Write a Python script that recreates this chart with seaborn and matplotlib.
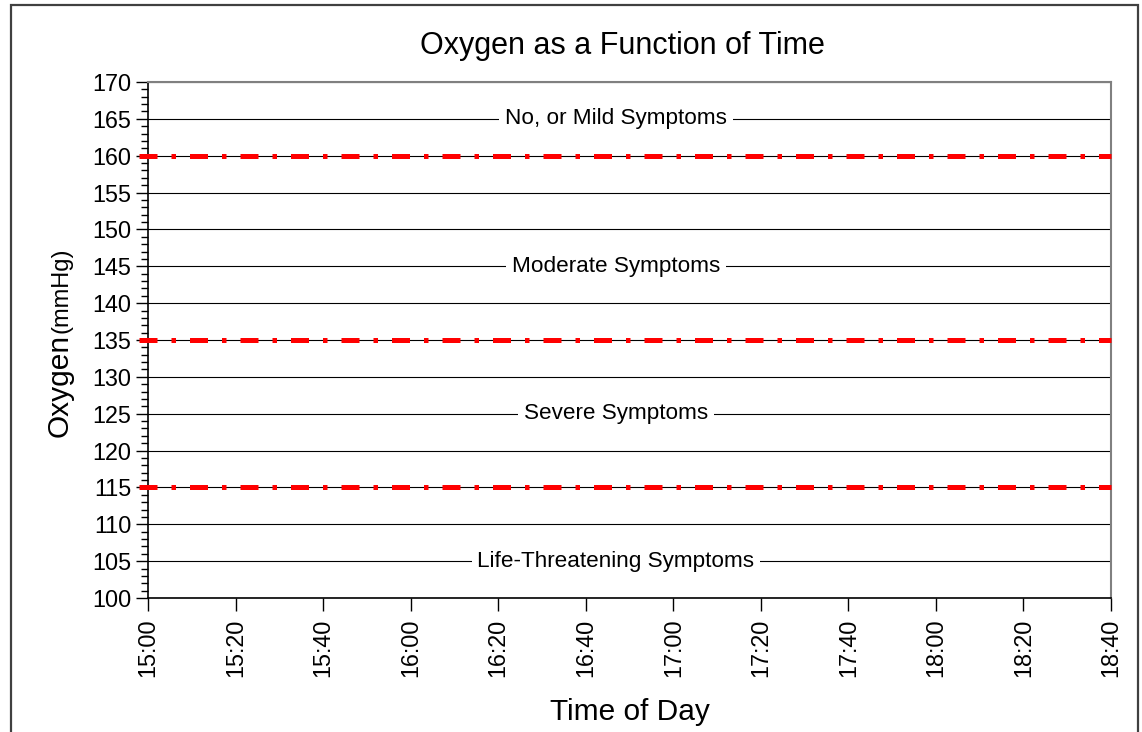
import matplotlib
matplotlib.use("Agg")
import pandas as pd
import seaborn as sns
import matplotlib.pyplot as plt
from matplotlib.patches import Rectangle
from matplotlib.ticker import MultipleLocator
import matplotlib.transforms as mtransforms

# data
time_labels = ["15:00", "15:20", "15:40", "16:00", "16:20", "16:40", "17:00",
               "17:20", "17:40", "18:00", "18:20", "18:40"]
threshold_levels = [160, 135, 115]
line_times = ["14:58", "18:40"]
zone_labels = ["No, or Mild Symptoms", "Moderate Symptoms",
               "Severe Symptoms", "Life-Threatening Symptoms"]
zone_levels = [165, 145, 125, 105]


def to_min(t):
    h, m = t.split(":")
    return (int(h) - 15) * 60 + int(m)


tick_pos = [to_min(t) for t in time_labels]
line_x = [to_min(t) for t in line_times]

sns.set_style("white")
plt.rcParams["font.family"] = ["Liberation Sans", "DejaVu Sans"]
plt.rcParams["text.color"] = "black"
plt.rcParams["axes.labelcolor"] = "black"
plt.rcParams["xtick.color"] = "black"
plt.rcParams["ytick.color"] = "black"

W, H = 1142, 732
fig = plt.figure(figsize=(W / 100, H / 100), dpi=100)
ax = fig.add_axes([148 / W, 1 - 598 / H, (1111 - 148) / W, (598 - 82) / H])

# horizontal grid every 5
ax.set_ylim(100, 170)
ax.set_xlim(tick_pos[0], tick_pos[-1])
ax.yaxis.set_major_locator(MultipleLocator(5))
ax.yaxis.set_minor_locator(MultipleLocator(1))
ax.grid(axis="y", which="major", color="black", linewidth=0.8)
ax.grid(axis="x", visible=False)

# threshold lines
for lvl in threshold_levels:
    df = pd.DataFrame({"time": line_x, "oxygen": [lvl, lvl]})
    sns.lineplot(data=df, x="time", y="oxygen", ax=ax, color="#ff0000",
                 linewidth=3.6, linestyle=(0, (3.6, 2.8, 0.9, 2.8)),
                 solid_capstyle="butt", dash_capstyle="butt",
                 clip_on=False, zorder=3)

# zone labels
trans = mtransforms.blended_transform_factory(ax.transAxes, ax.transData)
for lab, lvl in zip(zone_labels, zone_levels):
    ax.text(0.486, lvl, lab, transform=trans, ha="center", va="center",
            fontsize=16.2, zorder=4,
            bbox=dict(boxstyle="square,pad=0.25", facecolor="white",
                      edgecolor="none"))

ax.set_xticks(tick_pos)
ax.set_xticklabels(time_labels, rotation=90)
ax.tick_params(axis="x", which="major", direction="out", length=9,
               width=1, color="black", labelsize=16.8, pad=6, bottom=True)
ax.tick_params(axis="y", which="major", direction="out", length=9,
               width=1, color="black", labelsize=16.8, pad=3, left=True)
ax.tick_params(axis="y", which="minor", direction="out", length=5,
               width=1, color="black", left=True)

for s in ["left", "bottom"]:
    ax.spines[s].set_color("black")
    ax.spines[s].set_linewidth(1.2)
for s in ["top", "right"]:
    ax.spines[s].set_color("#808080")
    ax.spines[s].set_linewidth(1.5)

ax.set_xlabel("")
ax.set_ylabel("")

fig.text(622 / W, 1 - 46 / H, "Oxygen as a Function of Time",
         ha="center", va="center", fontsize=22)
fig.text(630 / W, 1 - 712 / H, "Time of Day", ha="center", va="center",
         fontsize=21.5)
fig.text(68 / W, 1 - 437 / H, "Oxygen", rotation=90, rotation_mode="anchor",
         ha="left", va="baseline", fontsize=21.5)
fig.text(68 / W, 1 - 333 / H, "(mmHg)", rotation=90, rotation_mode="anchor",
         ha="left", va="baseline", fontsize=17)

# outer border
fig.add_artist(Rectangle((11 / W, -0.02), (1138 - 11) / W, 1.02 - 5 / H,
                         transform=fig.transFigure, fill=False,
                         edgecolor="#404040", linewidth=1.6))

fig.savefig("out.png", dpi=100)
